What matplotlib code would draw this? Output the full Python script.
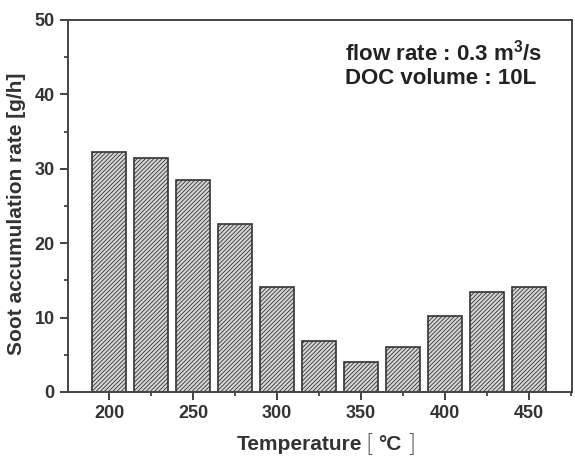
import numpy as np
import matplotlib.pyplot as plt
from matplotlib.ticker import MultipleLocator

# Soot accumulation rate vs DOC inlet temperature
temperature = [200, 225, 250, 275, 300, 325, 350, 375, 400, 425, 450]
soot_rate = [32.3, 31.4, 28.5, 22.6, 14.1, 6.9, 4.0, 6.0, 10.2, 13.5, 14.1]

plt.rcParams['font.family'] = ['Liberation Sans', 'DejaVu Sans']
plt.rcParams['font.weight'] = 'bold'
plt.rcParams['hatch.color'] = '#8a8a8a'
plt.rcParams['hatch.linewidth'] = 0.6

fig = plt.figure(figsize=(5.75, 4.59), dpi=100)
ax = fig.add_axes([68 / 575, 1 - 392 / 459, 504 / 575, 372 / 459])

ax.bar(temperature, soot_rate, width=20.5, color='#d6d6d6', edgecolor='#333333',
       linewidth=1.2, hatch='////////')

ax.set_xlim(175.5, 475.5)
ax.set_ylim(0, 50)
ax.xaxis.set_major_locator(MultipleLocator(50))
ax.xaxis.set_minor_locator(MultipleLocator(25))
ax.yaxis.set_major_locator(MultipleLocator(10))
ax.yaxis.set_minor_locator(MultipleLocator(5))
ax.tick_params(which='major', direction='out', length=6, width=1.3, colors='#333333',
               labelsize=13, labelcolor='#333333')
ax.tick_params(which='minor', direction='out', length=3, width=1.2, colors='#333333')
for side in ['left', 'bottom', 'top', 'right']:
    ax.spines[side].set_linewidth(1.4)
    ax.spines[side].set_color('#444444')

ax.set_ylabel('Soot accumulation rate [g/h]', fontsize=15, fontweight='bold',
              color='#333333')
ax.yaxis.set_label_coords(-0.084, 0.478)

# x label: bold words, thin brackets
t1 = fig.text(237 / 575, 1 - 445 / 459, 'Temperature', fontsize=15, fontweight='bold',
              color='#333333', ha='left', va='center')
t2 = ax.annotate('[', xy=(1, 0.5), xycoords=t1, xytext=(2, 0), textcoords='offset points',
                 fontsize=17, fontweight='light', color='#555555', ha='left', va='center',
                 family='DejaVu Sans', annotation_clip=False)
t3 = ax.annotate('°C', xy=(1, 0.5), xycoords=t2, xytext=(3, 0), textcoords='offset points',
                 fontsize=15, fontweight='bold', color='#333333', ha='left', va='center',
                 annotation_clip=False)
ax.annotate(']', xy=(1, 0.5), xycoords=t3, xytext=(3, 0), textcoords='offset points',
            fontsize=17, fontweight='light', color='#555555', ha='left', va='center',
            family='DejaVu Sans', annotation_clip=False)

ax.text(0.55, 0.948, 'flow rate : 0.3 m$\\mathregular{^3}$/s\nDOC volume : 10L',
        transform=ax.transAxes, ha='left', va='top', fontsize=16, fontweight='bold',
        color='#222222', linespacing=1.2)

fig.savefig('out.png', dpi=100)
